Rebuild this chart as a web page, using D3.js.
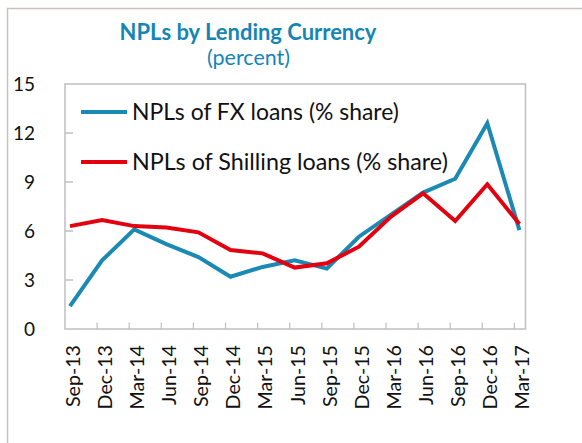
<!DOCTYPE html>
<html><head><meta charset="utf-8">
<script src="https://cdn.jsdelivr.net/npm/d3@7"></script>
<style>body{margin:0;background:#fff}svg{display:block}text{font-family:Lato,"Open Sans",sans-serif}</style>
</head><body>
<svg id="c" width="582" height="443"></svg>
<script>
const categories = ["Sep-13","Dec-13","Mar-14","Jun-14","Sep-14","Dec-14","Mar-15","Jun-15","Sep-15","Dec-15","Mar-16","Jun-16","Sep-16","Dec-16","Mar-17"];
const fxLoans = [1.4,4.2,6.1,5.2,4.4,3.2,3.8,4.2,3.7,5.65,7.0,8.35,9.2,12.6,6.05];
const shillingLoans = [6.3,6.67,6.3,6.22,5.92,4.84,4.63,3.76,4.02,5.04,6.88,8.31,6.61,8.86,6.43];
const yTicks = [0,3,6,9,12,15];
const seriesNames = ["NPLs of FX loans (% share)","NPLs of Shilling loans (% share)"];
const seriesColors = ["#1a8ab4","#e3000f"];

const svg = d3.select("#c");
function fit(sel, target, base){
  sel.style("font-size", base+"px");
  const w = sel.node().getComputedTextLength();
  sel.style("font-size", (base*target/w).toFixed(2)+"px");
}

// outer frame
svg.append("path").attr("d","M7.5,443V8.5H582").attr("fill","none").attr("stroke","#c8c4bc").attr("stroke-width",1.5);

// title
const t1 = svg.append("text").attr("x",248).attr("y",40).attr("text-anchor","middle")
  .attr("fill","#1585b5").attr("font-weight","bold").text("NPLs by Lending Currency");
fit(t1,257,20);
const t2 = svg.append("text").attr("x",248.5).attr("y",65).attr("text-anchor","middle")
  .attr("fill","#1585b5").text("(percent)");
fit(t2,83,19);

const x0 = 70, step = 32.1;
const x = d3.scalePoint().domain(categories).range([x0, x0+step*(categories.length-1)]);
const y = d3.scaleLinear().domain([0,15]).range([329,84]);

// plot frame
svg.append("rect").attr("x",65).attr("y",84).attr("width",460.5).attr("height",245)
  .attr("fill","none").attr("stroke","#bfbfbf").attr("stroke-width",1.5);

// y ticks
const yAxis = svg.append("g");
yTicks.forEach(v=>{
  if(v>0 && v<15) yAxis.append("line").attr("x1",65).attr("x2",73).attr("y1",y(v)).attr("y2",y(v)).attr("stroke","#bfbfbf").attr("stroke-width",1.5);
  const t = yAxis.append("text").attr("x",35).attr("y",y(v)).attr("dy","0.36em").attr("text-anchor","end").attr("fill","#111").text(v);
  t.style("font-size","19px");
});

// x ticks
categories.forEach((c,i)=>{
  if(i>0) svg.append("line").attr("x1",x(c)-5).attr("x2",x(c)-5).attr("y1",329).attr("y2",322.5).attr("stroke","#bfbfbf").attr("stroke-width",1.2);
});
const xl = svg.append("g").selectAll("text").data(categories).join("text")
  .attr("transform",d=>`translate(${x(d)+3},345) rotate(-90)`)
  .attr("text-anchor","end").attr("dy","0.35em").attr("fill","#111").text(d=>d);
xl.style("font-size","16px");
{ const w = xl.nodes()[0].getComputedTextLength(); xl.style("font-size",(16*62/w).toFixed(2)+"px"); }

// lines
const line = d3.line().x((d,i)=>x(categories[i])).y(d=>y(d));
[fxLoans, shillingLoans].forEach((s,k)=>{
  svg.append("path").datum(s).attr("d",line).attr("fill","none").attr("stroke",seriesColors[k])
    .attr("stroke-width",4).attr("stroke-linejoin","miter");
});

// legend
const legY = [112,162], legTargets=[267,316];
seriesNames.forEach((n,k)=>{
  svg.append("line").attr("x1",81).attr("x2",127).attr("y1",legY[k]).attr("y2",legY[k]).attr("stroke",seriesColors[k]).attr("stroke-width",4);
  const t = svg.append("text").attr("x",132).attr("y",legY[k]).attr("dy","0.35em").attr("fill","#111").text(n);
  fit(t,legTargets[k],19);
});
</script>
</body></html>
